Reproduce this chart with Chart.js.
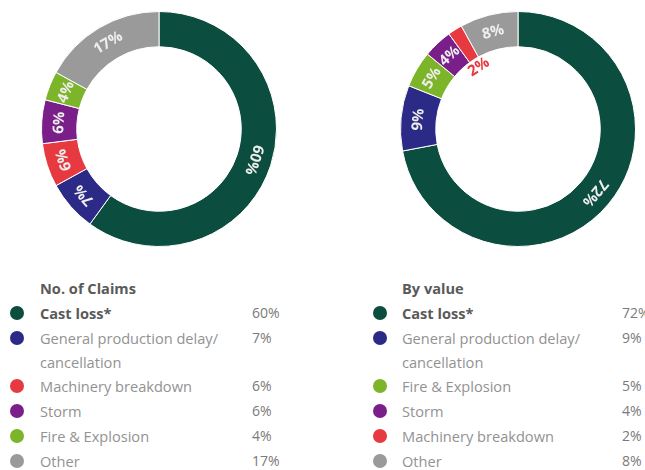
<!DOCTYPE html>
<html>
<head>
<meta charset="utf-8">
<script src="https://cdn.jsdelivr.net/npm/chart.js@4/dist/chart.umd.min.js"></script>
<style>
  html, body { margin: 0; padding: 0; background: #ffffff; }
  body { width: 645px; height: 470px; position: relative; overflow: hidden; font-family: "Open Sans", Lato, sans-serif; }
  canvas { position: absolute; }
  .legend { position: absolute; top: 276px; font-size: 14.6px; color: #929292; }
  .legend .title { font-weight: 700; color: #5a5a5a; height: 25px; line-height: 24px; }
  .legend .row { position: relative; height: 25px; line-height: 24px; }
  .legend .row.tall { height: 48px; }
  .legend .dot { position: absolute; width: 14px; height: 14px; border-radius: 50%; top: 5px; }
  .legend .lab { position: absolute; left: 0; white-space: nowrap; line-height: 24px; }
  .legend .pct { position: absolute; color: #7a7a7a; white-space: nowrap; font-size: 14px; }
  .legend .bold { font-weight: 700; color: #5a5a5a; }
</style>
</head>
<body>
<canvas id="c1" width="236" height="236" style="left:41px;top:11px"></canvas>
<canvas id="c2" width="236" height="236" style="left:400px;top:11px"></canvas>
<div id="leg1" class="legend" style="left:40px;width:260px"></div>
<div id="leg2" class="legend" style="left:402px;width:243px"></div>
<script>
// ---- data ----
const claimsLabels = ["Cast loss*", "General production delay/\ncancellation", "Machinery breakdown", "Storm", "Fire & Explosion", "Other"];
const claimsValues = [60, 7, 6, 6, 4, 17];
const claimsColors = ["#0b4d3e", "#2b2a86", "#e73a40", "#7a1f8a", "#7db52a", "#9a9a9a"];

const valueLabels = ["Cast loss*", "General production delay/\ncancellation", "Fire & Explosion", "Storm", "Machinery breakdown", "Other"];
const valueValues = [72, 9, 5, 4, 2, 8];
const valueColors = ["#0b4d3e", "#2b2a86", "#7db52a", "#7a1f8a", "#e73a40", "#9a9a9a"];

const claimsTitle = "No. of Claims";
const valueTitle = "By value";

// ---- arc label plugin ----
const arcLabels = {
  id: 'arcLabels',
  afterDatasetsDraw(chart) {
    const ctx = chart.ctx;
    const meta = chart.getDatasetMeta(0);
    const data = chart.data.datasets[0].data;
    const colors = chart.data.datasets[0].backgroundColor;
    meta.data.forEach((arc, i) => {
      const p = arc.getProps(['x', 'y', 'startAngle', 'endAngle', 'innerRadius', 'outerRadius'], true);
      const mid = (p.startAngle + p.endAngle) / 2;
      const small = data[i] < 3;
      const r = small ? p.innerRadius - 9 : (p.innerRadius + p.outerRadius) / 2;
      ctx.save();
      ctx.translate(p.x + Math.cos(mid) * r, p.y + Math.sin(mid) * r);
      ctx.rotate(mid + Math.PI / 2);
      ctx.font = 'bold 15px "Open Sans", sans-serif';
      ctx.textAlign = 'center';
      ctx.textBaseline = 'middle';
      ctx.fillStyle = small ? colors[i] : '#eeeeee';
      ctx.fillText(data[i] + '%', 0, 0);
      ctx.restore();
    });
  }
};

function makeChart(id, labels, values, colors) {
  return new Chart(document.getElementById(id), {
    type: 'doughnut',
    data: {
      labels: labels,
      datasets: [{
        data: values,
        backgroundColor: colors,
        borderColor: '#ffffff',
        borderWidth: 1
      }]
    },
    options: {
      responsive: false,
      animation: false,
      cutout: '70%',
      rotation: 0,
      layout: { padding: 0 },
      plugins: { legend: { display: false }, tooltip: { enabled: false } }
    },
    plugins: [arcLabels]
  });
}

makeChart('c1', claimsLabels, claimsValues, claimsColors);
makeChart('c2', valueLabels, valueValues, valueColors);

// ---- HTML legends ----
function makeLegend(id, title, labels, values, colors, dotLeft, pctLeft) {
  const el = document.getElementById(id);
  const t = document.createElement('div');
  t.className = 'title';
  t.textContent = title;
  el.appendChild(t);
  labels.forEach((lab, i) => {
    const lines = lab.split('\n');
    const row = document.createElement('div');
    row.className = 'row' + (lines.length > 1 ? ' tall' : '');
    const dot = document.createElement('span');
    dot.className = 'dot';
    dot.style.left = dotLeft + 'px';
    dot.style.background = colors[i];
    row.appendChild(dot);
    const l = document.createElement('div');
    l.className = 'lab' + (i === 0 ? ' bold' : '');
    l.innerHTML = lines.map(s => s.replace(/&/g, '&amp;')).join('<br>');
    row.appendChild(l);
    const p = document.createElement('span');
    p.className = 'pct';
    p.style.left = pctLeft + 'px';
    p.textContent = values[i] + '%';
    row.appendChild(p);
    el.appendChild(row);
  });
}
makeLegend('leg1', claimsTitle, claimsLabels, claimsValues, claimsColors, -30, 212);
makeLegend('leg2', valueTitle, valueLabels, valueValues, valueColors, -29, 220);
</script>
</body>
</html>
